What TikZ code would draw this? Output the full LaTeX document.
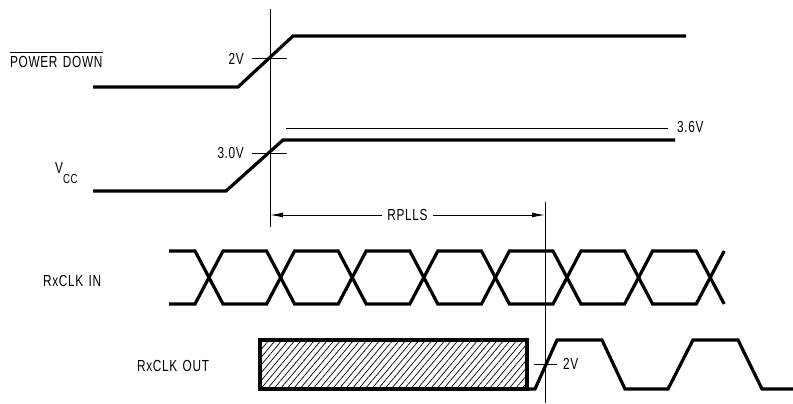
\documentclass[tikz,border=0pt]{standalone}
\usepackage{fontspec}
\newfontfamily\cadfont[FakeStretch=0.74,LetterSpace=4,WordSpace=1.4]{Liberation Sans}
\usetikzlibrary{arrows.meta,patterns.meta}
\begin{document}
\begin{tikzpicture}[x=1pt,y=-1pt]

      \tikzset{trace/.style={draw, line width=3.2pt},
               thin/.style={draw, line width=1pt},
               lbl/.style={font=\cadfont\fontsize{16}{16}\selectfont, inner sep=0pt},
               dim/.style={thin, {Latex[length=13pt,width=5pt]}-{Latex[length=13pt,width=5pt]}}}
      \useasboundingbox (0,0) rectangle (793,404);
%% Labels
      	\node[lbl, anchor=west] (pd) at (10,62) {POWER DOWN};
      	\node[lbl, anchor=west] (vcc) at (55,173) {V\raisebox{-1.1ex}{\fontsize{13}{13}\selectfont CC}};
      	\node[lbl, anchor=west] (rxin) at (43,281) {RxCLK IN};
      	\node[lbl, anchor=west] (rxout) at (137,366) {RxCLK OUT};
      	\node[lbl, anchor=east] (pd2v) at (244,59) {2V};
      	\node[lbl, anchor=east] (vcc30) at (244,153) {3.0V};
      	\node[lbl, anchor=west] (vcc36) at (677,127) {3.6V};
      	\node[lbl, anchor=west] (out2v) at (563,364) {2V};
%% Markers
      	\coordinate (t0top) at (270,9);
      	\coordinate (t0bot) at (270,227);
      	\coordinate (t1top) at (545,202);
      	\coordinate (t1bot) at (545,403);
%Overline
		\path[thin] ([yshift=4pt]pd.north west) -- ([yshift=4pt]pd.north east);
%Time lines
		\path[thin] (t0top) -- (t0bot);
		\path[thin] (t1top) -- (t1bot);
		\path[dim] (270,215) -- (545,215)
			node[lbl, pos=0.5, fill=white, inner xsep=5pt, inner ysep=2pt] (rplls) {RPLLS};
%Thresholds
		\path[thin] (252,59) -- (287,59);
		\path[thin] (252,153) -- (287,153);
		\path[thin] (286,128) -- (668,128);
		\path[thin] (534,364) -- (557,364);
%Power down and Vcc
		\path[trace] (93,87) -- (238,87) -- (293,36) -- (686,36);
		\path[trace] (93,191) -- (226,191) -- (283,140) -- (675,140);
%RxCLK IN
		\path[trace] (169,251) foreach \k in {0,...,7} {
			-- ({209+71.6*\k-14},{251+53*mod(\k,2)}) -- ({209+71.6*\k+14},{304-53*mod(\k,2)})};
		\path[trace] (169,304) foreach \k in {0,...,7} {
			-- ({209+71.6*\k-14},{304-53*mod(\k,2)}) -- ({209+71.6*\k+14},{251+53*mod(\k,2)})};
%RxCLK OUT
		\path[trace, pattern={Lines[angle=50,distance=5pt,line width=0.7pt]}] (260,340) rectangle (527,389);
		\path[trace] (527,389) -- (535,389) -- (557,340) -- (602,340) -- (625,389) -- (668,389)
			-- (693,340) -- (738,340) -- (762,389) -- (793,389);

	\end{tikzpicture}
\end{document}
